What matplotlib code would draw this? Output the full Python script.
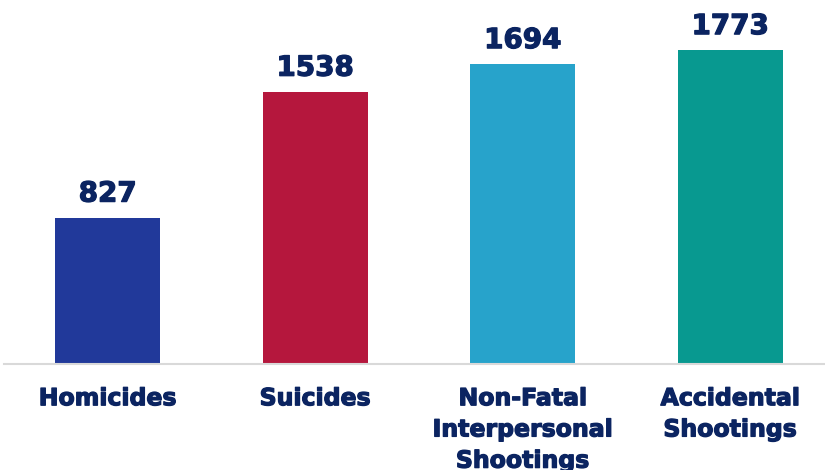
import matplotlib.pyplot as plt
import matplotlib.patheffects as pe

categories = ["Homicides", "Suicides", "Non-Fatal\nInterpersonal\nShootings", "Accidental\nShootings"]
values = [827, 1538, 1694, 1773]
colors = ["#21399A", "#B5173D", "#27A3CB", "#089990"]
text_color = "#0B2461"


def main() -> None:
    fig = plt.figure(figsize=(8.25, 4.70), dpi=100)
    ax = fig.add_axes([4 / 825, 106 / 470, 830 / 825, 364 / 470])

    # thicken DejaVu bold a bit to look like the heavy original font
    heavy = [pe.withStroke(linewidth=0.9, foreground=text_color)]

    x = range(len(categories))
    bars = ax.bar(x, values, width=0.506, color=colors, zorder=2)

    for bar, value in zip(bars, values):
        ax.annotate(f"{value}", (bar.get_x() + bar.get_width() / 2, value),
                    xytext=(0, 11.5), textcoords="offset points",
                    ha="center", va="baseline", fontsize=20, fontweight="bold",
                    color=text_color, path_effects=heavy)

    ax.set_xlim(-0.5, 3.5)
    ax.set_ylim(0, 2056)
    ax.set_xticks(list(x))
    labels = ax.set_xticklabels(categories, fontsize=17, fontweight="bold",
                                color=text_color, linespacing=1.38)
    for label in labels:
        label.set_path_effects(heavy)
    ax.tick_params(axis="x", length=0, pad=16)
    ax.set_yticks([])

    for side in ["top", "right", "left"]:
        ax.spines[side].set_visible(False)
    ax.spines["bottom"].set_color("#D9D9D9")
    ax.spines["bottom"].set_linewidth(1.5)

    fig.savefig("out.png", dpi=100)
    plt.close(fig)


if __name__ == "__main__":
    main()
